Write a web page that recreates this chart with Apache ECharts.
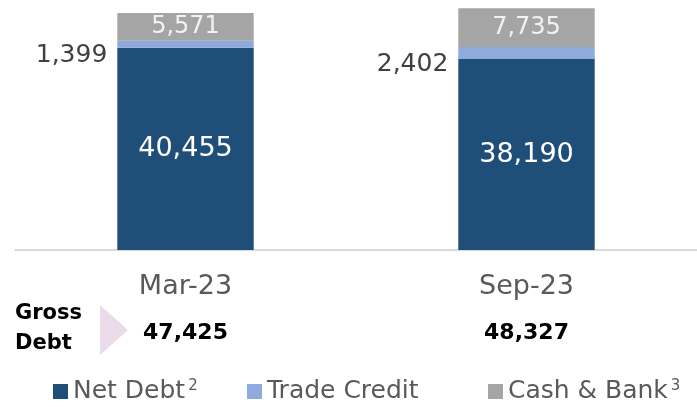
<!DOCTYPE html>
<html>
<head>
<meta charset="utf-8">
<script src="https://cdn.jsdelivr.net/npm/echarts@6/dist/echarts.min.js"></script>
<style>
  html, body { margin: 0; padding: 0; background: #fff; }
  #chart { width: 697px; height: 407px; }
</style>
</head>
<body>
<div id="chart"></div>
<script>
// values
var categories = ['Mar-23', 'Sep-23'];
var netDebt = [40455, 38190];
var tradeCredit = [1399, 2402];
var cashBank = [5571, 7735];
var grossDebt = [47425, 48327];
var seriesNames = ['Net Debt', 'Trade Credit', 'Cash & Bank'];

var FONT = 'DejaVu Sans';
function fmt(v){ return Number(v).toLocaleString('en-US'); }

var chart = echarts.init(document.getElementById('chart'));

// one legend per item so the spacing follows the slide
var legendLeft = [48, 242, 483];
var legends = [];
for(var i = 0; i < seriesNames.length; i++){
  legends.push({
    top: 374,
    left: legendLeft[i],
    itemWidth: 15,
    itemHeight: 15,
    itemGap: 6,
    icon: 'rect',
    data: [seriesNames[i]],
    formatter: function(n){
      if(n == 'Net Debt') return '{t|Net Debt}{s|2}';
      if(n == 'Cash & Bank') return '{t|Cash & Bank}{s|3}';
      return '{t|' + n + '}';
    },
    textStyle: {
      rich: {
        t: { fontSize: 25, color: '#595959', fontFamily: FONT },
        s: { fontSize: 15, color: '#595959', fontFamily: FONT, padding: [0, 0, 10, 3] }
      }
    }
  });
}

var option = {
  animation: false,
  textStyle: { fontFamily: FONT },
  grid: { left: 15, width: 685, top: -2, bottom: 157 },
  xAxis: [{
    type: 'category',
    data: categories,
    axisLine: { lineStyle: { color: '#d9d9d9', width: 2 } },
    axisTick: { show: false },
    axisLabel: { color: '#595959', fontSize: 27, margin: 23, fontFamily: FONT }
  }, {
    // gross debt totals shown as a second row under the category labels
    type: 'category',
    position: 'bottom',
    offset: 60,
    data: categories,
    axisLine: { show: false },
    axisTick: { show: false },
    axisLabel: {
      color: '#000', fontSize: 22, fontWeight: 'bold', margin: 12, fontFamily: FONT,
      formatter: function(v, i){ return fmt(grossDebt[i]); }
    }
  }],
  yAxis: { type: 'value', min: 0, max: 50000, show: false },
  legend: legends,
  series: [{
    name: 'Net Debt', type: 'bar', stack: 'debt', barWidth: '40%',
    data: netDebt,
    itemStyle: { color: '#1f4e79' },
    label: { show: true, position: 'inside', color: '#fff', fontSize: 27, fontFamily: FONT,
      formatter: function(p){ return fmt(p.value); } }
  }, {
    name: 'Trade Credit', type: 'bar', stack: 'debt',
    data: tradeCredit,
    itemStyle: { color: '#8faadc' },
    label: { show: true, position: 'left', distance: 10, offset: [0, 11], color: '#404040', fontSize: 25, fontFamily: FONT,
      formatter: function(p){ return fmt(p.value); } }
  }, {
    name: 'Cash & Bank', type: 'bar', stack: 'debt',
    data: cashBank,
    itemStyle: { color: '#a5a5a5' },
    label: { show: true, position: 'inside', color: '#f2f2f2', fontSize: 24, fontFamily: FONT,
      formatter: function(p){ return fmt(p.value); } }
  }],
  graphic: [{
    type: 'polygon',
    shape: { points: [[100, 305], [128, 330], [100, 355]] },
    style: { fill: '#e9dbea' }
  }, {
    type: 'text',
    left: 15, top: 299,
    style: { text: 'Gross\nDebt', font: 'bold 21px "' + FONT + '"', fill: '#000', lineHeight: 30 }
  }]
};

chart.setOption(option);
</script>
</body>
</html>
